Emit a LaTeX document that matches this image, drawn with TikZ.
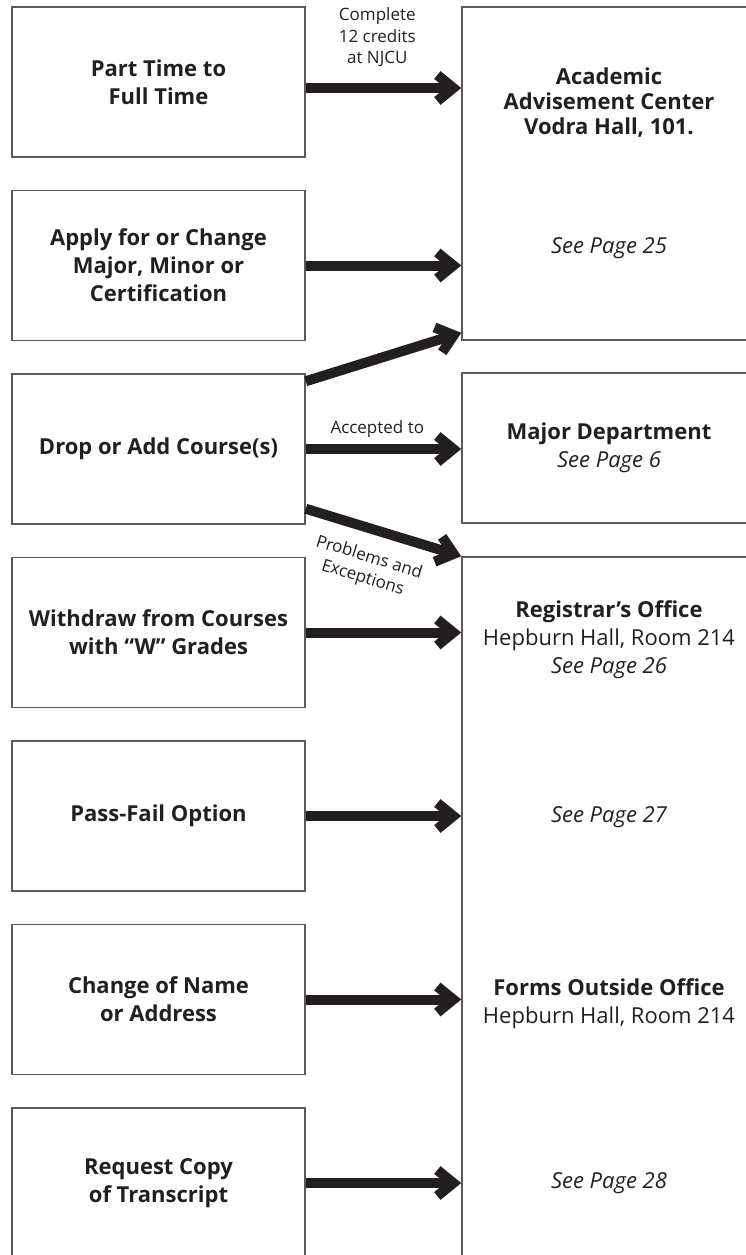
\documentclass[tikz,border=0pt]{standalone}
\usepackage{fontspec}
\setmainfont{Open Sans}
\usetikzlibrary{positioning}
\usetikzlibrary{arrows.meta}
\definecolor{frame}{HTML}{5A5A5A}
\definecolor{ink}{HTML}{231F20}
\tikzset{task/.style={
    draw=frame, line width=1.5pt,
    minimum width=293pt,
    minimum height=150pt,
    inner sep=0pt, align=center, text=ink,
    font=\bfseries\fontsize{22}{28}\selectfont
  },
  office/.style={
    draw=frame, line width=1.5pt,
    minimum width=294pt,
    inner sep=0pt, align=center, text=ink,
    font=\fontsize{22}{28}\selectfont
  },
  officetext/.style={
    inner sep=0pt, align=center, text=ink,
    font=\fontsize{22}{28}\selectfont
  },
  flow/.style={
    draw=ink, line width=10pt,
    -{Straight Barb[sharp,length=16pt,width=26pt]}
  },
  note/.style={
    inner sep=0pt, align=center, text=ink,
    font=\fontsize{17}{21.5}\selectfont
  },
}

\begin{document}
\begin{tikzpicture}[x=1pt,y=1pt,node distance=183.5pt]
  \useasboundingbox (0,0) rectangle (746,-1255);
  \clip (0,0) rectangle (746,-1255);

  % what the student wants to do
  \node[task]                     (parttime) at (158.5,-82) {Part Time to\\Full Time};
  \node[task, below of=parttime]  (changemajor) {Apply for or Change\\Major, Minor or\\Certification};
  \node[task, below of=changemajor] (dropadd)  {Drop or Add Course(s)};
  \node[task, below of=dropadd]   (withdraw) {Withdraw from Courses\\with ``W'' Grades};
  \node[task, below of=withdraw]  (passfail) {Pass-Fail Option};
  \node[task, below of=passfail]  (namechange) {Change of Name\\or Address};
  \node[task, below of=namechange] (transcript) {Request Copy\\of Transcript};

  % where to go
  \node[office, minimum height=333pt] (advise) at (609,-173.5) {};
  \node[officetext, font=\bfseries\fontsize{22}{25}\selectfont] (advisename) at (609,-103)
    {Academic\\Advisement Center\\Vodra Hall, 101.};
  \node[officetext] (advisepage) at (609,-248) {\itshape See Page 25};

  \node[office, minimum height=150pt] (dept) at (609,-448) {\textbf{Major Department}\\\textit{See Page 6}};

  \node[office, minimum height=713pt] (registrar) at (609,-913.5) {};
  \node[officetext] (regname)  at (609,-640) {\textbf{Registrar's Office}\\Hepburn Hall, Room 214\\\textit{See Page 26}};
  \node[officetext] (regpass)  at (609,-817) {\itshape See Page 27};
  \node[officetext] (regforms) at (609,-1004) {\textbf{Forms Outside Office}\\Hepburn Hall, Room 214};
  \node[officetext] (regcopy)  at (609,-1183) {\itshape See Page 28};

  % arrows
  \draw[flow] ([yshift=-6pt]parttime.east) -- ([yshift=-6pt]parttime.east -| advise.west)
    node[note, pos=0.46, above=16pt] {Complete\\12 credits\\at NJCU};
  \draw[flow] (changemajor.east) -- (changemajor.east -| advise.west);
  \draw[flow] ([yshift=-8pt]dropadd.north east) -- ([yshift=8pt]advise.south west);
  \draw[flow] (dropadd.east) -- (dropadd.east -| dept.west)
    node[note, pos=0.46, above=6pt] {Accepted to};
  \draw[flow] ([yshift=16pt]dropadd.south east) -- (registrar.north west)
    node[note, pos=0.46, sloped, below=15pt] {Problems and\\Exceptions};
  \draw[flow] (withdraw.east) -- (withdraw.east -| registrar.west);
  \draw[flow] (passfail.east) -- (passfail.east -| registrar.west);
  \draw[flow] (namechange.east) -- (namechange.east -| registrar.west);
  \draw[flow] (transcript.east) -- (transcript.east -| registrar.west);
\end{tikzpicture}
\end{document}
